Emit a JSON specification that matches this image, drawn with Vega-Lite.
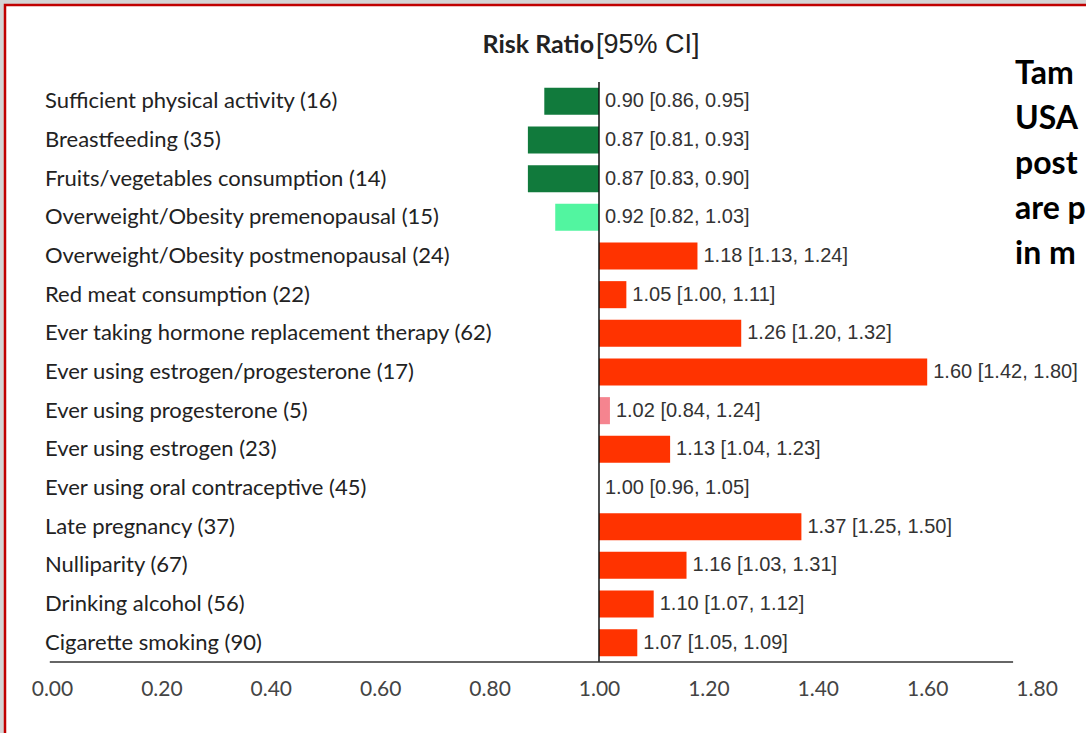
{
  "$schema": "https://vega.github.io/schema/vega-lite/v6.json",
  "width": 1085,
  "height": 732,
  "autosize": {"type": "none"},
  "padding": {"left": 5, "top": 5, "right": -4, "bottom": -4},
  "background": "#d4d4d4",
  "config": {"view": {"fill": "white", "stroke": "#c00000", "strokeWidth": 2.5}},
  "data": {"values": [
    {"label": "Sufficient physical activity (16)", "rr": 0.90, "ci": "0.90 [0.86, 0.95]", "effect": "protective"},
    {"label": "Breastfeeding (35)", "rr": 0.87, "ci": "0.87 [0.81, 0.93]", "effect": "protective"},
    {"label": "Fruits/vegetables consumption (14)", "rr": 0.87, "ci": "0.87 [0.83, 0.90]", "effect": "protective"},
    {"label": "Overweight/Obesity premenopausal (15)", "rr": 0.92, "ci": "0.92 [0.82, 1.03]", "effect": "protective n.s."},
    {"label": "Overweight/Obesity postmenopausal (24)", "rr": 1.18, "ci": "1.18 [1.13, 1.24]", "effect": "risk"},
    {"label": "Red meat consumption (22)", "rr": 1.05, "ci": "1.05 [1.00, 1.11]", "effect": "risk"},
    {"label": "Ever taking hormone replacement therapy (62)", "rr": 1.26, "ci": "1.26 [1.20, 1.32]", "effect": "risk"},
    {"label": "Ever using estrogen/progesterone (17)", "rr": 1.60, "ci": "1.60 [1.42, 1.80]", "effect": "risk"},
    {"label": "Ever using progesterone (5)", "rr": 1.02, "ci": "1.02 [0.84, 1.24]", "effect": "risk n.s."},
    {"label": "Ever using estrogen  (23)", "rr": 1.13, "ci": "1.13 [1.04, 1.23]", "effect": "risk"},
    {"label": "Ever using oral contraceptive (45)", "rr": 1.00, "ci": "1.00 [0.96, 1.05]", "effect": "null"},
    {"label": "Late pregnancy (37)", "rr": 1.37, "ci": "1.37 [1.25, 1.50]", "effect": "risk"},
    {"label": "Nulliparity (67)", "rr": 1.16, "ci": "1.16 [1.03, 1.31]", "effect": "risk"},
    {"label": "Drinking alcohol (56)", "rr": 1.10, "ci": "1.10 [1.07, 1.12]", "effect": "risk"},
    {"label": "Cigarette smoking (90)", "rr": 1.07, "ci": "1.07 [1.05, 1.09]", "effect": "risk"}
  ]},
  "layer": [
    {
      "mark": {"type": "bar"},
      "encoding": {
        "y": {"field": "label", "type": "nominal", "axis": null,
          "scale": {"domain": ["Sufficient physical activity (16)", "Breastfeeding (35)", "Fruits/vegetables consumption (14)", "Overweight/Obesity premenopausal (15)", "Overweight/Obesity postmenopausal (24)", "Red meat consumption (22)", "Ever taking hormone replacement therapy (62)", "Ever using estrogen/progesterone (17)", "Ever using progesterone (5)", "Ever using estrogen  (23)", "Ever using oral contraceptive (45)", "Late pregnancy (37)", "Nulliparity (67)", "Drinking alcohol (56)", "Cigarette smoking (90)"],
            "range": [77, 657], "paddingInner": 0.3, "paddingOuter": 0.15}},
        "x": {"field": "rr", "type": "quantitative",
          "scale": {"domain": [-0.0859, 1.8976], "nice": false, "zero": false},
          "axis": {"values": [0, 0.2, 0.4, 0.6, 0.8, 1.0, 1.2, 1.4, 1.6, 1.8], "format": ".2f", "offset": -75,
            "domain": false, "ticks": false, "grid": false, "labelFlush": false, "title": null,
            "labelFont": "Lato", "labelFontSize": 21, "labelColor": "#444444", "labelPadding": 16}},
        "x2": {"datum": 1},
        "color": {"field": "effect", "type": "nominal", "legend": null,
          "scale": {"domain": ["protective", "protective n.s.", "risk", "risk n.s.", "null"],
            "range": ["#117a3c", "#52f5a0", "#ff3300", "#f5848f", "#ffffff"]}}
      }
    },
    {
      "data": {"values": [{}]},
      "mark": {"type": "rule", "color": "#111111", "strokeWidth": 1.5},
      "encoding": {
        "x": {"datum": 1, "type": "quantitative"},
        "y": {"datum": "Sufficient physical activity (16)", "type": "nominal", "bandPosition": -0.214, "axis": null},
        "y2": {"datum": "Cigarette smoking (90)", "bandPosition": 1.214}
      }
    },
    {
      "data": {"values": [{}]},
      "mark": {"type": "rule", "color": "#333333", "strokeWidth": 1.5},
      "encoding": {
        "x": {"datum": -0.004, "type": "quantitative"},
        "x2": {"datum": 1.757},
        "y": {"datum": "Cigarette smoking (90)", "type": "nominal", "bandPosition": 1.214, "axis": null}
      }
    },
    {
      "mark": {"type": "text", "align": "left", "baseline": "middle", "font": "Lato", "fontSize": 22, "color": "#222222"},
      "encoding": {
        "x": {"datum": -0.0128, "type": "quantitative"},
        "y": {"field": "label", "type": "nominal", "axis": null},
        "text": {"field": "label"}
      }
    },
    {
      "transform": [{"filter": "datum.rr >= 1"}],
      "mark": {"type": "text", "align": "left", "baseline": "middle", "dx": 6, "font": "Liberation Sans", "fontSize": 20, "color": "#333333"},
      "encoding": {
        "x": {"field": "rr", "type": "quantitative"},
        "y": {"field": "label", "type": "nominal", "axis": null},
        "text": {"field": "ci"}
      }
    },
    {
      "transform": [{"filter": "datum.rr < 1"}],
      "mark": {"type": "text", "align": "left", "baseline": "middle", "dx": 6, "font": "Liberation Sans", "fontSize": 20, "color": "#333333"},
      "encoding": {
        "x": {"datum": 1, "type": "quantitative"},
        "y": {"field": "label", "type": "nominal", "axis": null},
        "text": {"field": "ci"}
      }
    },
    {
      "data": {"values": [{}]},
      "mark": {"type": "text", "align": "right", "baseline": "middle", "dx": -5, "font": "Lato", "fontWeight": "bold", "fontSize": 25, "color": "#222222"},
      "encoding": {
        "x": {"datum": 1, "type": "quantitative"},
        "y": {"datum": "Sufficient physical activity (16)", "type": "nominal", "bandPosition": -1.58, "axis": null},
        "text": {"value": "Risk Ratio"}
      }
    },
    {
      "data": {"values": [{}]},
      "mark": {"type": "text", "align": "left", "baseline": "middle", "dx": -3, "font": "Liberation Sans", "fontSize": 27, "color": "#222222"},
      "encoding": {
        "x": {"datum": 1, "type": "quantitative"},
        "y": {"datum": "Sufficient physical activity (16)", "type": "nominal", "bandPosition": -1.58, "axis": null},
        "text": {"value": "[95% CI]"}
      }
    },
    {
      "data": {"values": [{}]},
      "mark": {"type": "text", "align": "left", "baseline": "top", "font": "Lato", "fontWeight": "bold", "fontSize": 32, "lineHeight": 45, "color": "#000000"},
      "encoding": {
        "x": {"datum": 1.7605, "type": "quantitative"},
        "y": {"datum": "Sufficient physical activity (16)", "type": "nominal", "bandPosition": -1.05, "axis": null},
        "text": {"value": ["Tam", "USA", "post", "are p", "in m"]}
      }
    }
  ]
}
